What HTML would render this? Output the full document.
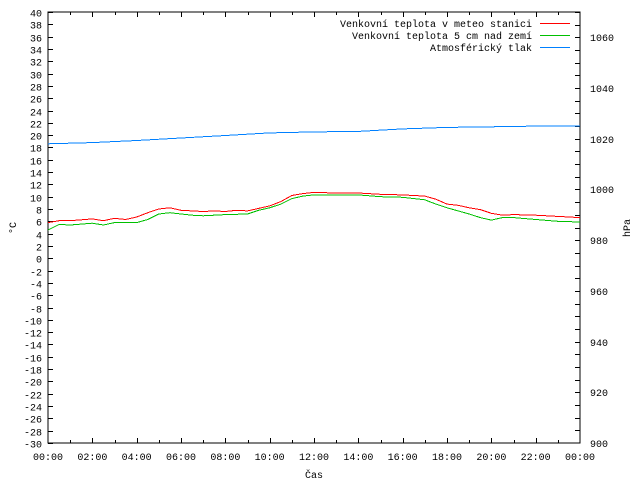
<!DOCTYPE html>
<html><head><meta charset="utf-8"><style>
body{margin:0;background:#fff}
svg text{font-family:"Liberation Mono",monospace;font-size:10px;fill:#000}
</style></head><body>
<svg width="640" height="480" viewBox="0 0 640 480" id="c">
<rect width="640" height="480" fill="#fff"/>
</svg>
<script>
const hours=[0,0.5,1,2,2.5,3,3.5,4,4.5,5,5.5,6,6.5,7,7.5,8,8.5,9,9.5,10,10.5,11,11.5,12,13,14,15,16,16.5,17,17.5,18,18.5,19,19.5,20,20.5,21,22,23,24];
const redTemp=[5.8,6.1,6.1,6.4,6.1,6.5,6.3,6.7,7.4,8.0,8.2,7.8,7.7,7.6,7.7,7.6,7.8,7.7,8.1,8.5,9.2,10.2,10.5,10.7,10.6,10.6,10.4,10.3,10.2,10.1,9.6,8.8,8.6,8.2,7.9,7.3,7.0,7.1,7.0,6.8,6.6];
const greenHours=[0,0.5,1,2,2.5,3,4,4.5,5,5.5,6,6.5,7,8,9,9.5,10,10.5,11,11.5,12,13,14,15,16,17,17.5,18,18.5,19,19.5,20,20.5,21,22,23,24];
const greenTemp=[4.6,5.5,5.4,5.7,5.4,5.8,5.8,6.3,7.2,7.4,7.2,7.0,6.9,7.1,7.2,7.8,8.2,8.8,9.7,10.1,10.3,10.3,10.3,10.0,9.9,9.5,8.8,8.2,7.7,7.2,6.6,6.2,6.6,6.6,6.3,6.0,5.9];
const pHours=[0,2,4,6,8,10,12,14,16,18,20,22,24];
const pressure=[1018.0,1018.5,1019.3,1020.3,1021.3,1022.3,1022.7,1022.9,1023.9,1024.5,1024.7,1025.0,1025.1];
const xLabels=["00:00","02:00","04:00","06:00","08:00","10:00","12:00","14:00","16:00","18:00","20:00","22:00","00:00"];

const L=48,R=580,T=12,B=443;
const x=h=>L+h/24*(R-L);
const y=t=>B-(t+30)/70*(B-T);
const yp=p=>B-(p-900)/170*(B-T);
const svg=document.getElementById('c');
const NS='http://www.w3.org/2000/svg';
function mk(tag,attrs,parent){const e=document.createElementNS(NS,tag);for(const k in attrs)e.setAttribute(k,attrs[k]);(parent||svg).appendChild(e);return e;}

const frame=mk('rect',{x:L,y:T,width:R-L,height:B-T,fill:'none',stroke:'#000','stroke-width':1,'shape-rendering':'crispEdges'});



for(let t=-30;t<=40;t+=2){
 const yy=Math.round(y(t))+0.5;
 const tk=mk('line',{x1:L,x2:L+5,y1:yy,y2:yy,stroke:'#000','shape-rendering':'crispEdges'});
 
 
 const lb=mk('text',{x:L-6,y:yy+4,'text-anchor':'end'});lb.textContent=t;
 
 
}
for(let p=905;p<=1070;p+=5){
 const yy=Math.round(yp(p))+0.5;
 const tk=mk('line',{x1:R-5,x2:R,y1:yy,y2:yy,stroke:'#000','shape-rendering':'crispEdges'});
 
 
}
for(let p=900;p<=1060;p+=20){
 const lb=mk('text',{x:R+10,y:Math.round(yp(p))+4});lb.textContent=p;
 
 
}
for(let h=1;h<24;h++){
 const xx=Math.round(x(h))+0.5;const len=h%2?3:5;
 const a=mk('line',{x1:xx,x2:xx,y1:B,y2:B-len,stroke:'#000','shape-rendering':'crispEdges'});
 
 
 const b=mk('line',{x1:xx,x2:xx,y1:T,y2:T+len,stroke:'#000','shape-rendering':'crispEdges'});
 
 
}
xLabels.forEach((s,i)=>{
 const lb=mk('text',{x:x(i*2),y:B+17,'text-anchor':'middle'});lb.textContent=s;
 
 
});
function line(xs,vs,fy,color,name){
 const pts=xs.map((h,i)=>x(h).toFixed(1)+','+fy(vs[i]).toFixed(1)).join(' ');
 const pl=mk('polyline',{points:pts,fill:'none',stroke:color,'stroke-width':1,'shape-rendering':'crispEdges'});
 
 
}
line(pHours,pressure,yp,'#0080ff','pressure-line');
line(greenHours,greenTemp,y,'#00c000','ground-temp-line');
line(hours,redTemp,y,'#ff0000','station-temp-line');

const leg=[["Venkovní teplota v meteo stanici","#ff0000"],["Venkovní teplota 5 cm nad zemí","#00c000"],["Atmosférický tlak","#0080ff"]];
leg.forEach((e,i)=>{
 const yy=23+i*12;
 const t=mk('text',{x:532,y:yy+4,'text-anchor':'end'});t.textContent=e[0];
 
 
 const l=mk('line',{x1:540,x2:570,y1:yy+0.5,y2:yy+0.5,stroke:e[1],'shape-rendering':'crispEdges'});
 
 
});
const xt=mk('text',{x:314,y:478,'text-anchor':'middle'});xt.textContent='Čas';


const yt=mk('text',{x:16,y:228,'text-anchor':'middle',transform:'rotate(-90 16 228)'});yt.textContent='°C';


const y2=mk('text',{x:630,y:228,'text-anchor':'middle',transform:'rotate(-90 630 228)'});y2.textContent='hPa';


</script>
</body></html>
